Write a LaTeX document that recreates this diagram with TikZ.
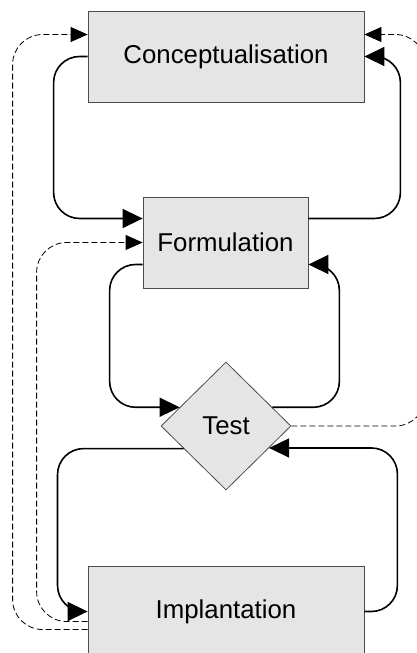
\documentclass[tikz,border=0pt]{standalone}
\usepackage{fontspec}
\setmainfont{Liberation Sans}
\usetikzlibrary{positioning}
\usetikzlibrary{calc}
\usetikzlibrary{shapes.geometric}
\usetikzlibrary{arrows.meta}

\begin{document}
\begin{tikzpicture}[x=1pt,y=-1pt,->,>={Triangle[length=20pt,width=19pt]}]
			\tikzset{vertex/.style = {shape=rectangle, draw=black!70, line width=0.8pt, fill=gray!20, font=\fontsize{25.8}{30}\selectfont, minimum height=91pt, inner sep=0pt}}
			\tikzset{decision/.style = {vertex, shape=diamond, minimum width=130pt, minimum height=128pt}}
			\tikzset{loop/.style = {line width=1.6pt, rounded corners=26pt}}
			\tikzset{back/.style = {line width=0.8pt, dash pattern=on 6pt off 3pt, rounded corners=30pt, -{Triangle[length=17pt,width=15pt]}}}
			
			\useasboundingbox (0,0) rectangle (416,653);
			
			\node[vertex, minimum width=276pt] (CONC) at (226,56.5) {Conceptualisation};
			\node[vertex, minimum width=165pt] (FORM) at (225.5,242.5) {Formulation};
			\node[decision] (TEST) at (226,426) {Test};
			\node[vertex, minimum width=276pt] (IMPL) at (226,611.5) {Implantation};
			
			% iterations
			\draw[loop] (CONC.west) -- ++(-34,0) |- ([yshift=24pt]FORM.west);
			\draw[loop] ([yshift=24pt]FORM.east) -- ++(92,0) |- (CONC.east);
			\draw[loop] ([yshift=-22pt]FORM.west) -- ++(-33,0) |- (TEST.158);
			\draw[loop] (TEST.22) -- ++(67,0) |- ([yshift=-22pt]FORM.east);
			\draw[loop] (TEST.208) -- ++(-126,0) |- (IMPL.west);
			\draw[loop] (IMPL.east) -- ++(33,0) |- (TEST.333);
			
			% feedback
			\draw[back] ([yshift=-18pt]IMPL.west) -- ++(-75,0) |- ([yshift=22pt]CONC.west);
			\draw[back] ([yshift=-10pt]IMPL.west) -- ++(-51,0) |- (FORM.west);
			\draw[back] (TEST.east) -- ++(134,0) |- ([yshift=22pt]CONC.east);
			
			\end{tikzpicture}
\end{document}
